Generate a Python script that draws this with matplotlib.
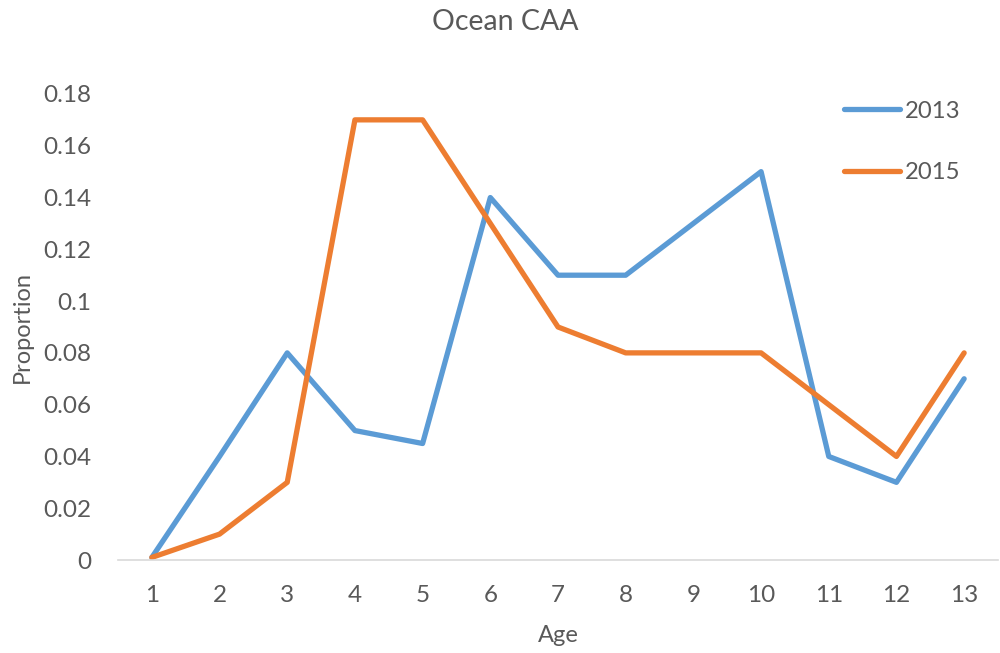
import matplotlib.pyplot as plt

ages = [1, 2, 3, 4, 5, 6, 7, 8, 9, 10, 11, 12, 13]
prop_2013 = [0.001, 0.04, 0.08, 0.05, 0.045, 0.14, 0.11, 0.11, 0.13, 0.15, 0.04, 0.03, 0.07]
prop_2015 = [0.001, 0.01, 0.03, 0.17, 0.17, 0.13, 0.09, 0.08, 0.08, 0.08, 0.06, 0.04, 0.08]
yticks = [0, 0.02, 0.04, 0.06, 0.08, 0.1, 0.12, 0.14, 0.16, 0.18]
ytick_labels = ["0", "0.02", "0.04", "0.06", "0.08", "0.1", "0.12", "0.14", "0.16", "0.18"]

txt = "#595959"
plt.rcParams['font.family'] = ['Lato', 'DejaVu Sans']

fig = plt.figure(figsize=(10, 6.53), dpi=100)
ax = fig.add_axes([0.118, 0.1424, 0.88, 0.7137])

ax.plot(ages, prop_2013, color="#5B9BD5", lw=3.8, solid_capstyle="round", solid_joinstyle="round", label="2013")
ax.plot(ages, prop_2015, color="#ED7D31", lw=3.8, solid_capstyle="round", solid_joinstyle="round", label="2015")

ax.set_xlim(0.5, 13.5)
ax.set_ylim(0, 0.18)
ax.set_xticks(ages)
ax.set_xticklabels([str(a) for a in ages])
ax.set_yticks(yticks)
ax.set_yticklabels(ytick_labels)
ax.tick_params(axis="both", length=0, labelsize=17.5, colors=txt)
ax.tick_params(axis="x", pad=18)
ax.tick_params(axis="y", pad=19.5)

for s in ["top", "right", "left"]:
    ax.spines[s].set_visible(False)
ax.spines["bottom"].set_color("#D9D9D9")
ax.spines["bottom"].set_linewidth(1.2)

fig.text(0.505, 0.967, "Ocean CAA", fontsize=20.5, color=txt, ha="center", va="center")
ax.set_xlabel("Age", fontsize=17, color=txt, labelpad=14)
ax.set_ylabel("Proportion", fontsize=17, color=txt, labelpad=7)

leg = ax.legend(loc="upper left", bbox_to_anchor=(0.80, 1.032), frameon=False,
                fontsize=17.2, labelspacing=1.7, handlelength=2.35, handletextpad=0.2,
                labelcolor=txt)

fig.savefig("out.png", dpi=100)
